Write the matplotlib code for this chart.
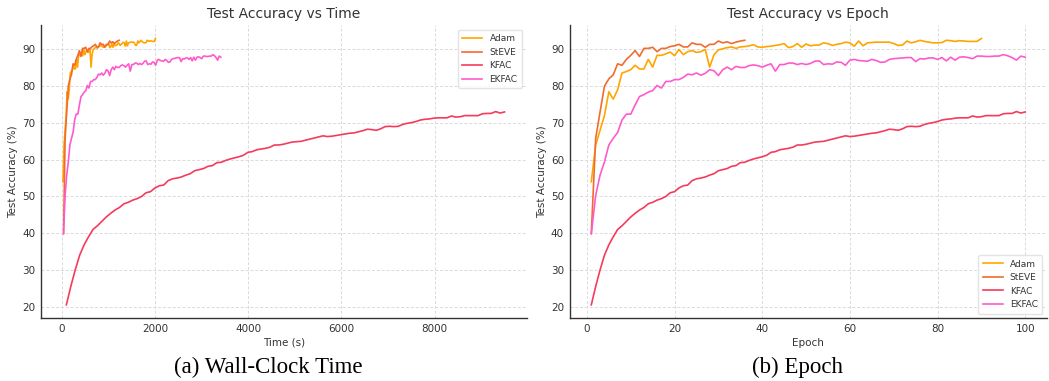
import numpy as np
import matplotlib
matplotlib.use('Agg')
import matplotlib.pyplot as plt

# test accuracy per epoch (%)
adam = [54, 64, 68, 72, 78.5, 76.5, 79, 83.6, 84, 84.5,
        85.7, 84.7, 84.7, 87.3, 85.2, 88.4, 88.4, 88.8, 89.3, 88.3,
        90, 88.6, 89.4, 89.7, 89.2, 89.4, 90, 85.2, 88.6, 89.9,
        90.2, 90.5, 90.7, 90.3, 90.7, 90.8, 91.0, 91.3, 90.7, 90.6,
        90.8, 90.9, 91.1, 91.3, 91.6, 90.5, 90.8, 91.6, 90.6, 91.5,
        91.0, 91.2, 91.2, 91.8, 91.6, 91.1, 91.4, 91.6, 92.0, 91.8,
        90.9, 92.3, 91.0, 91.8, 91.9, 92.0, 92.0, 92.0, 92.0, 91.6,
        91.1, 91.2, 92.3, 91.8, 92.1, 92.5, 92.2, 92.0, 91.8, 91.8,
        91.9, 92.5, 92.4, 92.2, 92.4, 92.3, 92.2, 92.2, 92.2, 93.0]
steve = [40, 65.8, 73, 80, 82, 83.1, 86.1, 85.7, 87.3, 88.4,
         89.7, 88.1, 90.3, 90.3, 90.6, 89.4, 90.3, 90.3, 90.8, 91.0,
         91.4, 90.7, 90.7, 91.8, 91.4, 91.4, 90.6, 91.4, 91.4, 92.3,
         91.8, 92.1, 91.6, 92.0, 92.3, 92.5]
kfac = [20.5, 25.5, 30, 34, 36.8, 39, 41, 42, 43.2, 44.4,
        45.4, 46.3, 47, 48, 48.4, 49, 49.4, 50, 51, 51.3,
        52.3, 52.9, 53.1, 54.3, 54.8, 55, 55.3, 55.8, 56.2, 57,
        57.3, 57.6, 58.2, 58.4, 59.2, 59.3, 59.8, 60.2, 60.5, 60.8,
        61.2, 62.0, 62.2, 62.7, 62.9, 63.1, 63.4, 64.0, 64.0, 64.2,
        64.5, 64.8, 64.9, 65.0, 65.3, 65.6, 65.9, 66.2, 66.5, 66.3,
        66.4, 66.6, 66.8, 67.0, 67.2, 67.3, 67.6, 67.9, 68.3, 68.2,
        68.0, 68.4, 69.0, 69.1, 69.0, 69.1, 69.6, 69.9, 70.1, 70.4,
        70.8, 71.0, 71.1, 71.3, 71.4, 71.4, 71.4, 71.9, 71.6, 71.7,
        72.0, 72.0, 72.0, 72.0, 72.5, 72.6, 72.6, 73.1, 72.7, 73.0]
ekfac = [39.8, 50.3, 55.8, 59.4, 64.0, 65.8, 67.4, 70.8, 72.4, 72.4,
         74.9, 77.2, 77.7, 78.4, 78.8, 80.2, 79.5, 81.3, 81.3, 81.8,
         81.8, 82.4, 83.3, 83.1, 83.6, 83.0, 83.5, 84.5, 84.2, 82.9,
         84.5, 85.2, 84.5, 85.4, 85.1, 85.1, 85.6, 85.8, 85.6, 85.2,
         85.7, 86.1, 84.1, 85.9, 85.9, 86.3, 86.3, 85.9, 86.2, 85.9,
         86.2, 86.8, 86.9, 85.9, 86.1, 86.0, 86.6, 86.5, 85.7, 87.1,
         87.3, 87.0, 86.9, 86.8, 87.3, 87.0, 86.5, 86.6, 87.3, 87.5,
         87.6, 87.7, 87.8, 87.8, 86.7, 87.5, 87.4, 87.7, 87.7, 87.3,
         87.8, 86.9, 87.9, 87.1, 87.9, 88.0, 87.8, 87.5, 88.2, 88.2,
         88.1, 88.1, 88.2, 88.2, 88.6, 88.3, 87.8, 87.1, 88.2, 87.9]

names = ["Adam", "StEVE", "KFAC", "EKFAC"]
series = [adam, steve, kfac, ekfac]
sec_per_epoch = [22.3, 34.1, 95.0, 34.1]   # wall-clock seconds per epoch
colors = ["#FFA500", "#F26B2E", "#F53B5C", "#FF5ACD"]

txt = "#333333"
plt.rcParams['font.family'] = 'DejaVu Sans'

fig = plt.figure(figsize=(10.49, 3.81), dpi=100)
ax1 = fig.add_axes([0.039, 0.165, 0.463, 0.769])
ax2 = fig.add_axes([0.543, 0.165, 0.455, 0.769])

for name, acc, sp, c in zip(names, series, sec_per_epoch, colors):
    ep = np.arange(1, len(acc) + 1)
    ax1.plot(ep * sp, acc, color=c, lw=1.2, label=name)
    ax2.plot(ep, acc, color=c, lw=1.2, label=name)

for ax, title, xlab, loc in [(ax1, "Test Accuracy vs Time", "Time (s)", "upper right"),
                             (ax2, "Test Accuracy vs Epoch", "Epoch", "lower right")]:
    ax.set_title(title, fontsize=10, color=txt, pad=5)
    ax.set_xlabel(xlab, fontsize=7.5, color=txt, labelpad=3)
    ax.set_ylabel("Test Accuracy (%)", fontsize=7.5, color=txt, labelpad=3)
    ax.grid(True, ls=(0, (3, 2)), color='#dadada', lw=0.7)
    ax.set_axisbelow(True)
    for s in ['top', 'right']:
        ax.spines[s].set_visible(False)
    for s in ['left', 'bottom']:
        ax.spines[s].set_color(txt)
        ax.spines[s].set_linewidth(1.0)
    ax.tick_params(labelsize=7.5, colors=txt, length=0, pad=4)
    leg = ax.legend(loc=loc, fontsize=6.5, frameon=True, handlelength=2.2,
                    borderpad=0.5, labelspacing=0.5, edgecolor='#dddddd')
    for t in leg.get_texts():
        t.set_color(txt)

fig.text(0.256, 0.02, "(a) Wall-Clock Time", ha='center', fontsize=16.5,
         family='Liberation Serif')
fig.text(0.76, 0.02, "(b) Epoch", ha='center', fontsize=16.5,
         family='Liberation Serif')

fig.savefig("out.png", dpi=100)
